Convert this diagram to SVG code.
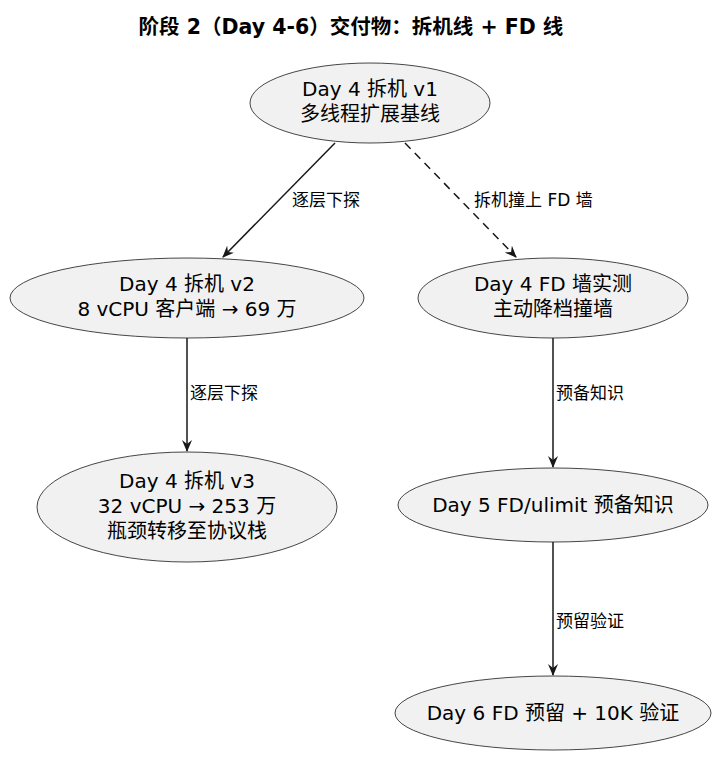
<svg xmlns="http://www.w3.org/2000/svg" width="719" height="758" viewBox="0 0 719 758">
<style>
text{font-family:"DejaVu Sans","Noto Sans CJK SC",sans-serif;fill:#000}
.n ellipse{fill:#f1f1f1;stroke:#181818;stroke-width:0.8}
.n text{font-size:20px;text-anchor:middle}
.l{font-size:17px}
.e{stroke:#181818;stroke-width:1.5;fill:none}
</style>
<defs><marker id="a" viewBox="0 0 12 10" refX="11" refY="5" markerWidth="12" markerHeight="10" markerUnits="userSpaceOnUse" orient="auto"><path d="M0,0 L12,5 L0,10 L4,5 Z" fill="#181818"/></marker></defs>
<text x="351" y="34" font-size="20.5" font-weight="bold" text-anchor="middle">阶段 2（Day 4-6）交付物：拆机线 + FD 线</text>
<g id="connectors">
<line class="e" x1="335" y1="143" x2="223" y2="257" marker-end="url(#a)"/>
<text class="l" x="292" y="206">逐层下探</text>
<line class="e" x1="405" y1="143" x2="516" y2="257" stroke-dasharray="8,6" marker-end="url(#a)"/>
<text class="l" x="474" y="206">拆机撞上 FD 墙</text>
<line class="e" x1="187" y1="338" x2="187" y2="451" marker-end="url(#a)"/>
<text class="l" x="190" y="399">逐层下探</text>
<line class="e" x1="553" y1="338" x2="553" y2="467" marker-end="url(#a)"/>
<text class="l" x="556" y="399">预备知识</text>
<line class="e" x1="553" y1="542" x2="553" y2="675" marker-end="url(#a)"/>
<text class="l" x="556" y="627">预留验证</text>
</g>
<g id="v1" class="n"><ellipse cx="370" cy="103" rx="120" ry="40"/><text x="370" y="96">Day 4 拆机 v1</text><text x="370" y="121">多线程扩展基线</text></g>
<g id="v2" class="n"><ellipse cx="187" cy="298" rx="177" ry="40"/><text x="187" y="291">Day 4 拆机 v2</text><text x="187" y="316">8 vCPU 客户端 → 69 万</text></g>
<g id="fdwall" class="n"><ellipse cx="553" cy="298" rx="135" ry="40"/><text x="553" y="291">Day 4 FD 墙实测</text><text x="553" y="316">主动降档撞墙</text></g>
<g id="v3" class="n"><ellipse cx="187" cy="507" rx="150" ry="55"/><text x="187" y="488">Day 4 拆机 v3</text><text x="187" y="513">32 vCPU → 253 万</text><text x="187" y="538">瓶颈转移至协议栈</text></g>
<g id="day5" class="n"><ellipse cx="553" cy="505" rx="155" ry="37"/><text x="553" y="512">Day 5 FD/ulimit 预备知识</text></g>
<g id="day6" class="n"><ellipse cx="553" cy="713" rx="158" ry="37"/><text x="553" y="720">Day 6 FD 预留 + 10K 验证</text></g>
</svg>
